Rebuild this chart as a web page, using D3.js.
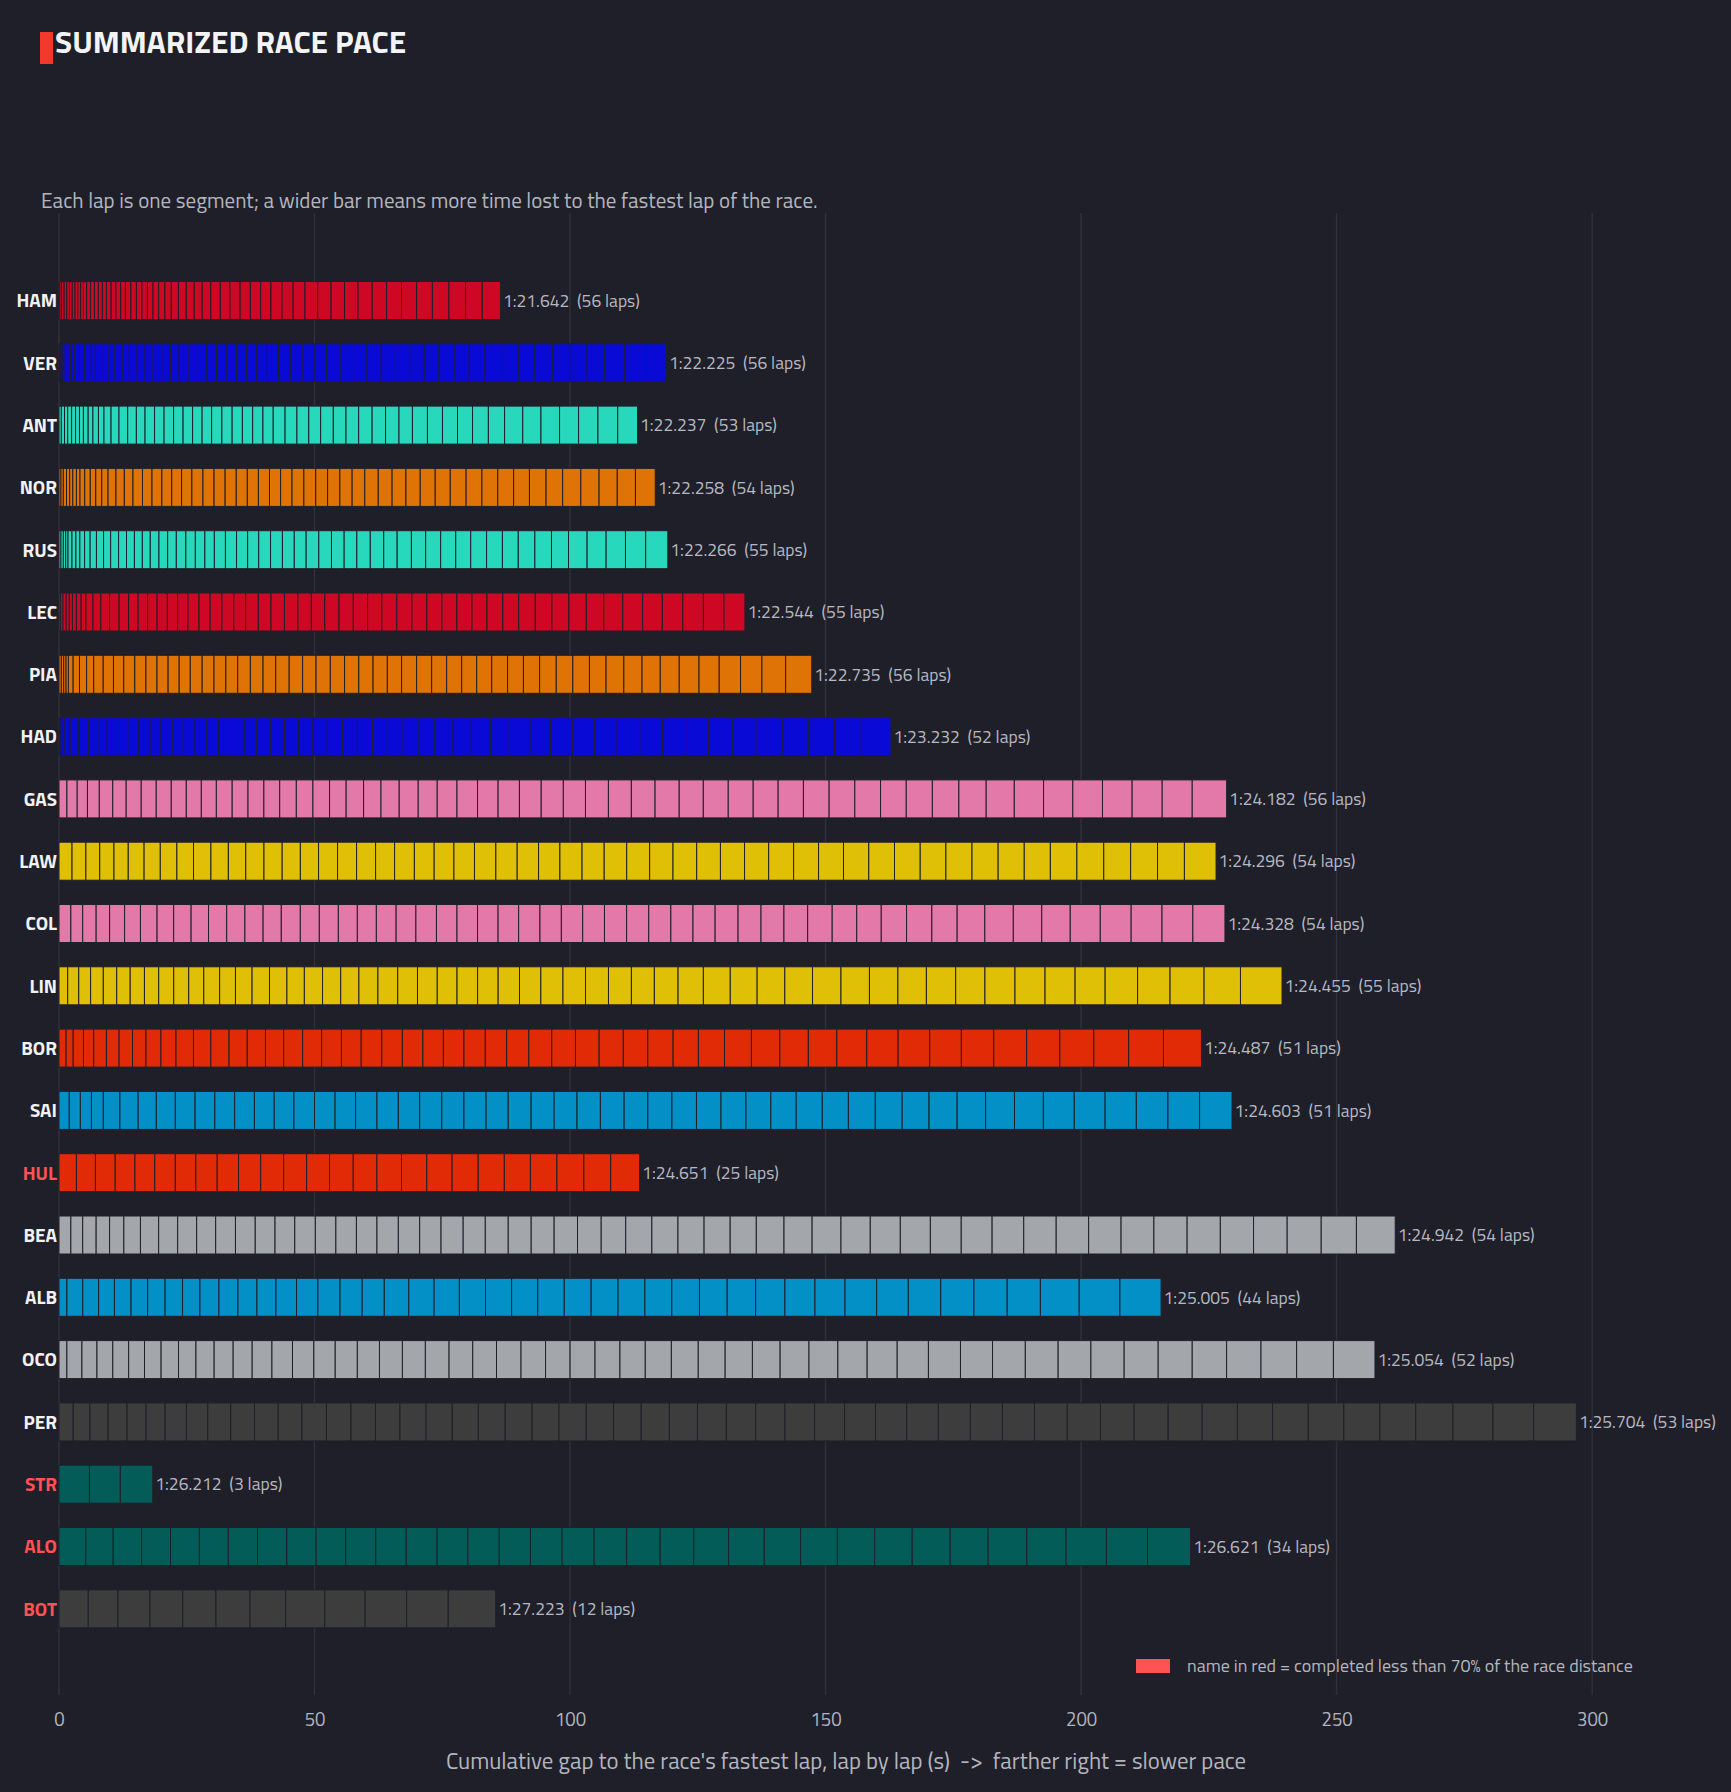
<!DOCTYPE html>
<html>
<head>
<meta charset="utf-8">
<style>
  body { margin: 0; background: #1e1f29; }
  svg { display: block; font-family: "Titillium Web", Roboto, "Noto Sans", sans-serif; }
  .pre { white-space: pre; }
</style>
</head>
<body>
<svg width="1731" height="1792"></svg>
<script src="https://d3js.org/d3.v7.min.js"></script>
<script>

// drivers, top to bottom
var drivers = ["HAM","VER","ANT","NOR","RUS","LEC","PIA","HAD","GAS","LAW","COL",
               "LIN","BOR","SAI","HUL","BEA","ALB","OCO","PER","STR","ALO","BOT"];

var driverColors = ["#cd0724","#0a0ad6","#27d8bc","#e07306","#27d8bc","#cd0724","#e07306",
                    "#0a0ad6","#e279a8","#dfc006","#e279a8","#dfc006","#e02b06","#0390c7",
                    "#e02b06","#a3a6ab","#0390c7","#a3a6ab","#3d3d3d","#035c58","#035c58","#3d3d3d"];

// average lap shown after each bar
var avgLap = ["1:21.642","1:22.225","1:22.237","1:22.258","1:22.266","1:22.544","1:22.735",
              "1:23.232","1:24.182","1:24.296","1:24.328","1:24.455","1:24.487","1:24.603",
              "1:24.651","1:24.942","1:25.005","1:25.054","1:25.704","1:26.212","1:26.621","1:27.223"];

// per lap gap to the race's fastest lap (s), sorted short to long
var gapsHAM = [0.00,0.15,0.35,0.50,0.52,0.53,0.54,0.54,0.55,0.55,0.56,0.62,0.76,0.77,0.77,0.78,0.79,
  0.92,0.93,0.93,0.94,1.07,1.08,1.08,1.08,1.09,1.10,1.23,1.25,1.39,1.54,1.55,1.56,1.70,1.85,1.87,
  2.00,2.01,2.01,2.02,2.16,2.18,2.32,2.48,2.62,2.63,2.64,2.78,2.80,2.93,2.95,3.10,3.24,3.25,3.26,3.56];
var gapsVER = [0.38,0.40,0.45,0.47,0.62,0.77,0.92,0.94,1.07,1.09,1.23,1.25,1.38,1.39,1.41,1.54,1.55,
  1.57,1.68,1.70,1.71,1.73,1.84,1.86,1.87,1.89,2.00,2.01,2.02,2.04,2.17,2.30,2.32,2.35,2.48,2.61,
  2.63,2.65,2.76,2.78,2.80,2.82,2.92,2.94,2.97,3.10,3.23,3.25,3.28,3.39,3.41,3.42,3.44,3.95,4.02,4.10];
var gapsANT = [0.46,0.62,0.62,0.77,0.77,0.77,0.77,0.93,0.93,1.08,1.08,1.39,1.55,1.70,1.70,1.70,1.86,
  1.86,1.86,1.86,1.86,1.86,1.86,2.01,2.01,2.01,2.01,2.01,2.01,2.32,2.32,2.32,2.32,2.48,2.48,2.48,
  2.63,2.63,2.63,2.63,2.94,2.94,2.94,2.94,3.10,3.17,3.56,3.56,3.64,3.72,3.79,3.87,3.87];
var gapsNOR = [0.39,0.46,0.62,0.62,0.62,0.70,0.70,0.93,1.08,1.08,1.16,1.24,1.55,1.63,1.70,1.86,1.86,
  1.93,1.93,1.93,2.01,2.17,2.17,2.17,2.17,2.17,2.17,2.17,2.17,2.24,2.32,2.32,2.32,2.40,2.40,2.48,
  2.63,2.71,2.71,2.79,2.94,2.94,3.10,3.10,3.10,3.10,3.10,3.25,3.25,3.56,3.56,3.56,3.56,3.87];
var gapsRUS = [0.39,0.46,0.46,0.46,0.77,0.77,0.77,0.93,1.08,1.24,1.39,1.39,1.55,1.55,1.55,1.55,1.55,
  1.70,1.70,1.70,1.86,1.86,1.86,1.86,2.17,2.17,2.17,2.17,2.32,2.32,2.32,2.32,2.48,2.48,2.48,2.48,
  2.63,2.63,2.63,2.79,2.79,2.94,2.94,2.94,3.10,3.10,3.10,3.25,3.25,3.33,3.64,3.72,3.79,3.95,4.33];
var gapsLEC = [0.31,0.46,0.62,0.62,0.62,0.77,0.93,0.93,1.39,1.55,1.70,1.86,1.86,1.86,1.86,1.86,2.01,
  2.01,2.01,2.17,2.17,2.32,2.32,2.32,2.48,2.48,2.63,2.63,2.63,2.63,2.79,2.79,2.79,2.79,2.94,2.94,
  2.94,2.94,2.94,2.94,2.94,3.10,3.10,3.25,3.25,3.33,3.41,3.41,3.72,3.87,3.87,4.02,4.02,4.02,4.10];
var gapsPIA = [0.46,0.46,0.46,0.46,0.93,1.24,1.39,1.39,1.86,2.01,2.01,2.17,2.17,2.17,2.17,2.17,2.17,
  2.32,2.32,2.32,2.32,2.48,2.48,2.48,2.63,2.63,2.63,2.79,2.79,2.79,2.79,2.79,2.79,2.94,2.94,2.94,
  2.94,2.94,2.94,3.10,3.10,3.17,3.25,3.25,3.25,3.25,3.48,3.56,3.56,3.72,3.87,3.95,4.18,4.18,4.64,5.11];
var gapsHAD = [0.39,0.62,1.16,1.70,1.86,1.86,1.86,2.01,2.01,2.17,2.17,2.17,2.17,2.17,2.32,2.32,2.32,
  2.48,2.48,2.48,2.63,2.79,2.79,2.79,2.79,2.94,2.94,2.94,2.94,3.10,3.10,3.10,3.56,3.56,3.72,3.72,
  4.02,4.02,4.33,4.33,4.41,4.41,4.49,4.49,4.49,4.64,4.88,4.88,5.11,5.11,5.26,5.80];
var gapsGAS = [1.55,2.01,2.01,2.32,2.63,2.63,2.94,2.94,2.94,2.94,2.94,2.94,3.10,3.10,3.10,3.10,3.25,
  3.25,3.25,3.25,3.41,3.41,3.56,3.72,3.72,3.87,4.02,4.02,4.18,4.26,4.33,4.33,4.49,4.49,4.64,4.72,
  4.72,4.88,4.88,4.88,4.95,5.03,5.03,5.03,5.03,5.11,5.19,5.34,5.50,5.73,5.73,5.80,5.80,5.88,5.88,6.73];
var gapsLAW = [2.55,2.71,2.71,2.79,2.79,3.10,3.17,3.25,3.25,3.41,3.41,3.41,3.56,3.56,3.56,3.56,3.72,
  3.72,3.72,3.72,3.87,3.87,3.87,4.02,4.18,4.18,4.18,4.18,4.33,4.33,4.41,4.49,4.57,4.64,4.64,4.72,
  4.72,4.88,4.88,4.88,4.95,5.03,5.03,5.03,5.11,5.11,5.11,5.11,5.19,5.26,5.26,5.26,5.26,6.19];
var gapsCOL = [2.32,2.32,2.63,2.63,2.94,3.10,3.25,3.25,3.41,3.41,3.56,3.56,3.56,3.56,3.72,3.72,3.72,
  3.72,3.72,3.87,3.87,4.02,4.02,4.02,4.02,4.02,4.18,4.18,4.18,4.26,4.33,4.33,4.33,4.33,4.33,4.49,
  4.49,4.49,4.64,4.80,4.80,4.80,4.95,4.95,4.95,5.42,5.57,5.57,5.57,5.88,6.04,6.04,6.04,6.27];
var gapsLIN = [1.70,2.17,2.32,2.48,2.63,2.63,2.79,2.79,2.94,2.94,2.94,3.10,3.10,3.25,3.41,3.41,3.41,
  3.56,3.56,3.56,3.72,3.87,3.87,3.87,3.87,4.02,4.02,4.18,4.18,4.33,4.41,4.49,4.49,4.49,4.64,4.95,
  5.26,5.26,5.42,5.42,5.57,5.57,5.57,5.57,5.73,5.73,5.88,5.88,5.88,5.88,6.35,6.35,6.66,7.12,8.13];
var gapsBOR = [1.39,1.39,2.01,2.01,2.48,2.48,2.63,2.63,2.94,2.94,3.41,3.41,3.56,3.56,3.56,3.56,3.72,
  3.72,3.87,3.87,4.02,4.02,4.02,4.02,4.02,4.18,4.18,4.33,4.49,4.64,4.64,4.72,4.80,4.95,4.95,5.11,
  5.26,5.57,5.57,5.57,5.88,6.11,6.19,6.19,6.35,6.42,6.50,6.66,6.81,6.81,7.43];
var gapsSAI = [2.01,2.17,2.17,2.32,3.25,3.56,3.56,3.72,3.87,3.87,3.87,3.87,3.87,3.87,4.02,4.02,4.02,
  4.18,4.18,4.18,4.33,4.33,4.33,4.33,4.49,4.49,4.49,4.57,4.64,4.64,4.72,4.80,4.80,4.88,4.88,4.95,
  5.11,5.11,5.26,5.26,5.26,5.50,5.57,5.65,5.65,6.04,6.04,6.11,6.19,6.19,6.35];
var gapsHUL = [3.41,3.72,3.87,3.87,3.87,4.02,4.02,4.18,4.18,4.33,4.49,4.49,4.49,4.64,4.64,4.80,4.95,
  4.95,5.11,5.11,5.11,5.19,5.26,5.26,5.65];
var gapsBEA = [2.32,2.32,2.63,2.63,2.79,3.25,3.56,3.72,3.72,3.72,3.87,3.87,3.87,3.87,4.02,4.02,4.02,
  4.02,4.18,4.18,4.18,4.33,4.33,4.49,4.49,4.49,4.57,4.64,4.80,5.11,5.11,5.11,5.11,5.11,5.42,5.50,
  5.65,5.73,5.88,5.88,6.04,6.04,6.19,6.35,6.35,6.35,6.42,6.50,6.50,6.50,6.58,6.66,6.89,7.59];
var gapsALB = [1.55,3.10,3.10,3.10,3.25,3.25,3.41,3.41,3.41,3.72,3.72,3.72,3.72,4.02,4.18,4.33,4.33,
  4.33,4.80,4.95,4.95,5.11,5.11,5.11,5.19,5.26,5.26,5.26,5.26,5.42,5.42,5.57,5.73,5.88,5.88,6.19,
  6.19,6.35,6.50,6.50,6.50,7.59,7.97,8.05];
var gapsOCO = [1.55,2.94,2.94,3.10,3.10,3.10,3.25,3.41,3.41,3.56,3.72,3.72,3.87,4.02,4.18,4.18,4.33,
  4.33,4.49,4.49,4.64,4.64,4.64,4.80,4.80,4.80,4.88,4.88,4.95,5.11,5.26,5.26,5.34,5.42,5.65,5.65,
  5.73,5.88,6.11,6.27,6.27,6.42,6.42,6.42,6.50,6.66,6.66,6.73,6.73,6.97,7.20,8.13];
var gapsPER = [2.79,3.25,3.56,3.72,3.72,3.72,4.18,4.18,4.49,4.64,4.64,4.64,4.80,4.80,4.80,4.80,5.11,
  5.11,5.11,5.26,5.26,5.26,5.34,5.34,5.42,5.50,5.50,5.65,5.73,5.73,5.80,5.88,6.04,6.11,6.19,6.27,
  6.27,6.27,6.42,6.50,6.58,6.66,6.66,6.89,6.89,6.97,6.97,7.04,7.04,7.28,7.82,7.97,8.36];
var gapsSTR = [5.96,6.04,6.35];
var gapsALO = [5.26,5.34,5.57,5.65,5.65,5.65,5.73,5.73,5.73,5.80,5.88,5.96,6.04,6.04,6.11,6.11,6.19,
  6.27,6.35,6.58,6.58,6.81,6.97,7.12,7.20,7.28,7.35,7.43,7.43,7.59,7.66,7.89,8.05,8.44];
var gapsBOT = [5.73,5.80,6.27,6.42,6.50,6.66,6.97,7.66,7.89,8.13,8.13,9.29];

var lapGaps = [gapsHAM,gapsVER,gapsANT,gapsNOR,gapsRUS,gapsLEC,gapsPIA,gapsHAD,gapsGAS,gapsLAW,gapsCOL,
               gapsLIN,gapsBOR,gapsSAI,gapsHUL,gapsBEA,gapsALB,gapsOCO,gapsPER,gapsSTR,gapsALO,gapsBOT];

var raceLaps = 56;
var xTicks = [0, 50, 100, 150, 200, 250, 300];

var bg = "#1e1f29";
var svg = d3.select("svg");

svg.append("rect").attr("width", 1731).attr("height", 1792).attr("fill", bg);

var x = d3.scaleLinear().domain([0, 308]).range([59, 1633]);
var y = d3.scalePoint().domain(drivers).range([300.5, 1608.8]);
var barH = 38;

var rows = drivers.map(function(d, i) {
  var cum = 0;
  var segs = lapGaps[i].map(function(g) {
    var s = {x0: cum, x1: cum + g};
    cum += g;
    return s;
  });
  return {driver: d, color: driverColors[i], segs: segs, total: cum,
          laps: lapGaps[i].length, avg: avgLap[i]};
});

// title
svg.append("rect").attr("x", 40).attr("y", 32).attr("width", 13).attr("height", 32).attr("fill", "#f2392b");
svg.append("text").attr("x", 55).attr("y", 53)
    .attr("fill", "#f4f4f6").attr("font-size", 31.5).attr("font-weight", 700)
    .text("SUMMARIZED RACE PACE");

svg.append("text").attr("x", 41).attr("y", 208)
    .attr("fill", "#b4b5be").attr("font-size", 21)
    .text("Each lap is one segment; a wider bar means more time lost to the fastest lap of the race.");

// grid
svg.append("g").selectAll("line").data(xTicks).join("line")
    .attr("x1", function(d) { return x(d); })
    .attr("x2", function(d) { return x(d); })
    .attr("y1", 213).attr("y2", 1695)
    .attr("stroke", "#2f303c").attr("stroke-width", 1.5);

// bars
var row = svg.append("g").selectAll("g").data(rows).join("g")
    .attr("transform", function(d) { return "translate(0," + (y(d.driver) - barH / 2) + ")"; });

row.selectAll("rect").data(function(d) { return d.segs.map(function(s) { s.color = d.color; return s; }); })
  .join("rect")
    .attr("x", function(s) { return x(s.x0); })
    .attr("width", function(s) { return x(s.x1) - x(s.x0); })
    .attr("height", barH)
    .attr("fill", function(s) { return s.color; })
    .attr("stroke", "#202029")
    .attr("stroke-width", 1);

row.append("text")
    .attr("x", 57).attr("y", barH / 2)
    .attr("dy", "0.36em")
    .attr("text-anchor", "end")
    .attr("font-size", 19).attr("font-weight", 700)
    .attr("fill", function(d) { return d.laps < raceLaps * 0.7 ? "#ff5252" : "#f2f2f4"; })
    .text(function(d) { return d.driver; });

row.append("text")
    .attr("class", "pre")
    .attr("x", function(d) { return x(d.total) + 2.5; })
    .attr("y", barH / 2)
    .attr("dy", "0.36em")
    .attr("font-size", 17.5)
    .attr("fill", "#b7b8c1")
    .text(function(d) { return d.avg + "  (" + d.laps + " laps)"; });

// x axis
var xAxis = svg.append("g")
    .attr("transform", "translate(0,1700)")
    .call(d3.axisBottom(x).tickValues(xTicks).tickSize(0).tickPadding(13));
xAxis.select(".domain").remove();
xAxis.selectAll("text")
    .attr("fill", "#b4b5be")
    .attr("font-size", 18.5)
    .attr("font-family", "\"Titillium Web\", Roboto, sans-serif");

svg.append("text")
    .attr("class", "pre")
    .attr("x", 846).attr("y", 1769)
    .attr("text-anchor", "middle")
    .attr("fill", "#b4b5be").attr("font-size", 22.8)
    .text("Cumulative gap to the race's fastest lap, lap by lap (s)  ->  farther right = slower pace");

// legend
svg.append("rect").attr("x", 1136).attr("y", 1659).attr("width", 34).attr("height", 14).attr("fill", "#ff5252");
svg.append("text").attr("x", 1187).attr("y", 1666).attr("dy", "0.36em")
    .attr("fill", "#b4b5be").attr("font-size", 18)
    .text("name in red = completed less than 70% of the race distance");

</script>
</body>
</html>
